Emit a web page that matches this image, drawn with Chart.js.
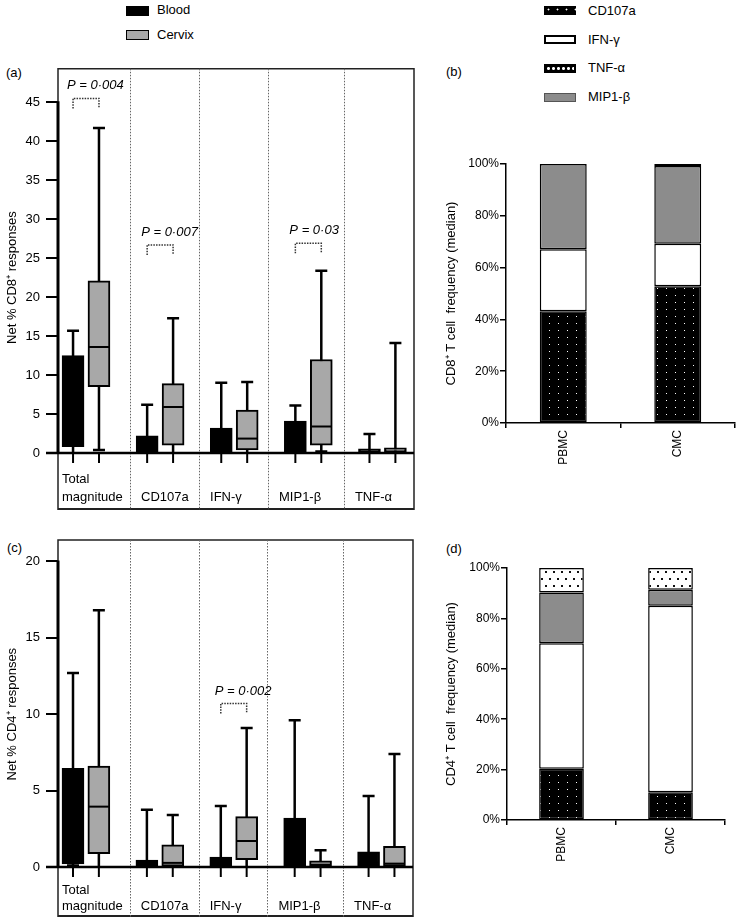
<!DOCTYPE html>
<html>
<head>
<meta charset="utf-8">
<script src="https://cdn.jsdelivr.net/npm/chart.js@4.4.1/dist/chart.umd.min.js"></script>
<style>
body { margin: 0; background: #fff; font-family: "Liberation Sans", Arial, sans-serif; color: #000; }
#page { position: relative; width: 739px; height: 918px; overflow: hidden; }
canvas { position: absolute; }
.lbl { position: absolute; font-size: 13px; line-height: 16px; white-space: nowrap; }
.sw { position: absolute; box-sizing: border-box; }
</style>
</head>
<body>
<div id="page">
  <div class="sw" style="left:126px;top:6px;width:23px;height:10px;background:#000"></div>
  <div class="lbl" style="left:157px;top:2px">Blood</div>
  <div class="sw" style="left:126px;top:30px;width:23px;height:10px;background:#a8a8a8;border:1.5px solid #000"></div>
  <div class="lbl" style="left:157px;top:27px">Cervix</div>

  <div class="sw" style="left:544px;top:6px;width:32px;height:9px;background:#000 radial-gradient(circle,#fff 0.7px,transparent 1.2px) 0 0/9px 7px"></div>
  <div class="lbl" style="left:588px;top:3px">CD107a</div>
  <div class="sw" style="left:544px;top:35px;width:32px;height:9px;background:#fff;border:2px solid #000"></div>
  <div class="lbl" style="left:588px;top:32px">IFN-γ</div>
  <div class="sw" style="left:544px;top:64px;width:32px;height:9px;border:2px solid #000;background:#000 radial-gradient(circle,#fff 1.3px,transparent 1.6px) 0 0/5px 5px"></div>
  <div class="lbl" style="left:588px;top:60px">TNF-α</div>
  <div class="sw" style="left:544px;top:93px;width:32px;height:9px;background:#8c8c8c;border:1px solid #555"></div>
  <div class="lbl" style="left:588px;top:89px">MIP1-β</div>

  <div class="lbl" style="left:6px;top:65px">(a)</div>
  <div class="lbl" style="left:446px;top:64px">(b)</div>
  <div class="lbl" style="left:7px;top:540px">(c)</div>
  <div class="lbl" style="left:446px;top:541px">(d)</div>

  <canvas id="chartA" width="420" height="462" style="left:0;top:55px"></canvas>
  <canvas id="chartB" width="319" height="360" style="left:420px;top:110px"></canvas>
  <canvas id="chartC" width="420" height="398" style="left:0;top:520px"></canvas>
  <canvas id="chartD" width="319" height="350" style="left:420px;top:520px"></canvas>
</div>
<script>
const groupLabels = [['Total', 'magnitude'], 'CD107a', 'IFN-γ', 'MIP1-β', 'TNF-α'];

// (a) net % CD8+ responses
const cd8BloodMin = [0, 0, 0, 0, 0];
const cd8BloodQ1 = [0.8, 0, 0, 0, 0];
const cd8BloodMed = [5.5, 0.6, 0.9, 1.5, 0.1];
const cd8BloodQ3 = [12.5, 2.2, 3.2, 4.1, 0.55];
const cd8BloodMax = [15.7, 6.2, 9.0, 6.1, 2.45];
const cd8CervixMin = [0.4, 0, 0, 0.2, 0];
const cd8CervixQ1 = [8.5, 1.0, 0.4, 1.0, 0];
const cd8CervixMed = [13.6, 5.9, 1.85, 3.4, 0.1];
const cd8CervixQ3 = [22.1, 8.9, 5.5, 12.0, 0.65];
const cd8CervixMax = [41.7, 17.3, 9.1, 23.4, 14.1];
const cd8Pvalues = [
    {group: 0, text: 'P = 0·004', at: 45.5},
    {group: 1, text: 'P = 0·007', at: 26.7},
    {group: 3, text: 'P = 0·03', at: 26.9}
];

// (c) net % CD4+ responses
const cd4BloodMin = [0.1, 0, 0, 0, 0];
const cd4BloodQ1 = [0.2, 0, 0, 0, 0];
const cd4BloodMed = [2.5, 0.1, 0.2, 1.0, 0.3];
const cd4BloodQ3 = [6.45, 0.45, 0.65, 3.2, 1.0];
const cd4BloodMax = [12.7, 3.75, 4.0, 9.6, 4.65];
const cd4CervixMin = [0, 0, 0, 0, 0];
const cd4CervixQ1 = [0.87, 0.05, 0.48, 0.05, 0.05];
const cd4CervixMed = [3.95, 0.27, 1.7, 0.15, 0.22];
const cd4CervixQ3 = [6.6, 1.45, 3.3, 0.4, 1.35];
const cd4CervixMax = [16.8, 3.4, 9.1, 1.1, 7.4];
const cd4Pvalues = [
    {group: 2, text: 'P = 0·002', at: 10.7}
];

// (b), (d) median composition, bottom to top
const sites = ['PBMC', 'CMC'];
const cd8Cd107a = [43.1, 52.8];
const cd8Ifng = [24.0, 16.4];
const cd8Mip1b = [32.9, 30.0];
const cd8Tnfa = [0, 0.8];
const cd4Cd107a = [20.3, 11.0];
const cd4Ifng = [49.8, 74.0];
const cd4Mip1b = [20.2, 6.4];
const cd4Tnfa = [9.7, 8.6];

const FONT = '"Liberation Sans", Arial, sans-serif';
Chart.defaults.font.family = FONT;
Chart.defaults.color = '#000';

const SHIFT = 0.175;

function dotPattern(bg, fg, w, h, pts, r)
{
    const c = document.createElement('canvas');
    c.width = w; c.height = h;
    const g = c.getContext('2d');
    g.fillStyle = bg; g.fillRect(0, 0, w, h);
    g.fillStyle = fg;
    pts.forEach(p => g.fillRect(p[0], p[1], r, r));
    return g.createPattern(c, 'repeat');
}
const dotsOnBlack = dotPattern('#000', '#fff', 9, 7, [[3, 3]], 1);
const dotsOnWhite = dotPattern('#fff', '#111', 8, 14, [[1, 2], [5, 9]], 2);

// whiskers, medians, frame, labels and p-value brackets of the box panels
const boxParts = {
    id: 'boxParts',
    beforeDatasetsDraw(chart, args, o) {
        const ctx = chart.ctx, x = chart.scales.x, y = chart.scales.y;
        ctx.save();
        ctx.strokeStyle = '#000';
        ctx.lineWidth = 2.5;
        o.series.forEach(s => s.max.forEach((hi, i) => {
            const px = x.getPixelForValue(i + s.shift);
            const top = y.getPixelForValue(hi), bot = y.getPixelForValue(s.min[i]);
            ctx.beginPath();
            ctx.moveTo(px, bot); ctx.lineTo(px, top);
            ctx.moveTo(px - 6, top); ctx.lineTo(px + 6, top);
            if (s.min[i] > 0) { ctx.moveTo(px - 6, bot); ctx.lineTo(px + 6, bot); }
            ctx.stroke();
        }));
        ctx.restore();
    },
    afterDatasetsDraw(chart, args, o) {
        const ctx = chart.ctx, a = chart.chartArea, x = chart.scales.x, y = chart.scales.y;
        const y0 = y.getPixelForValue(0), yTop = y.getPixelForValue(o.topTick), base = x.bottom;
        ctx.save();
        // medians
        ctx.strokeStyle = '#000';
        ctx.lineWidth = 2;
        o.series.forEach(s => s.med.forEach((m, i) => {
            const px = x.getPixelForValue(i + s.shift), py = y.getPixelForValue(m);
            ctx.beginPath(); ctx.moveTo(px - 10, py); ctx.lineTo(px + 10, py); ctx.stroke();
        }));
        // frame
        ctx.strokeStyle = '#222';
        ctx.lineWidth = 1.5;
        ctx.beginPath();
        ctx.moveTo(a.left, yTop); ctx.lineTo(a.left, a.top); ctx.lineTo(a.right, a.top); ctx.lineTo(a.right, base);
        ctx.moveTo(a.left, y0); ctx.lineTo(a.left, base);
        ctx.stroke();
        ctx.lineWidth = 2;
        ctx.beginPath(); ctx.moveTo(a.left, base - 1); ctx.lineTo(a.right, base - 1); ctx.stroke();
        // dotted dividers
        ctx.strokeStyle = '#666';
        ctx.lineWidth = 1;
        ctx.setLineDash([1.5, 1.5]);
        o.dividers.forEach(d => {
            const px = Math.round(x.getPixelForValue(d)) + 0.5;
            ctx.beginPath(); ctx.moveTo(px, a.top); ctx.lineTo(px, base); ctx.stroke();
        });
        ctx.setLineDash([]);
        // y axis and zero line
        ctx.strokeStyle = '#000';
        ctx.lineWidth = 3;
        ctx.beginPath(); ctx.moveTo(a.left, y0); ctx.lineTo(a.left, yTop - 1); ctx.stroke();
        ctx.lineWidth = 2.5;
        ctx.beginPath(); ctx.moveTo(a.left - 12, y0); ctx.lineTo(a.right, y0); ctx.stroke();
        // ticks under every box
        ctx.lineWidth = 2;
        o.series.forEach(s => s.max.forEach((_, i) => {
            const px = x.getPixelForValue(i + s.shift);
            ctx.beginPath(); ctx.moveTo(px, y0); ctx.lineTo(px, y0 + 10); ctx.stroke();
        }));
        // group labels
        ctx.fillStyle = '#000';
        ctx.font = '13px ' + FONT;
        ctx.textAlign = 'left';
        ctx.textBaseline = 'alphabetic';
        const h = base - y0;
        groupLabels.forEach((lab, i) => {
            const lx = i === 0 ? a.left + 4 : x.getPixelForValue(o.dividers[i - 1]) + 11;
            if (Array.isArray(lab)) {
                ctx.fillText(lab[0], lx, y0 + 0.53 * h);
                ctx.fillText(lab[1], lx, y0 + 0.85 * h);
            } else {
                ctx.fillText(lab, lx, y0 + 0.85 * h);
            }
        });
        // y title
        ctx.save();
        ctx.translate(12, (y0 + yTop) / 2);
        ctx.rotate(-Math.PI / 2);
        ctx.textAlign = 'center';
        ctx.textBaseline = 'middle';
        ctx.fillText(o.title, 0, 0);
        ctx.restore();
        // p-value brackets
        o.pvalues.forEach(p => {
            const x1 = x.getPixelForValue(p.group - SHIFT), x2 = x.getPixelForValue(p.group + SHIFT);
            const py = y.getPixelForValue(p.at);
            ctx.strokeStyle = '#333';
            ctx.lineWidth = 1.5;
            ctx.setLineDash([1.5, 1.2]);
            ctx.beginPath();
            ctx.moveTo(x1, py + 10); ctx.lineTo(x1, py); ctx.lineTo(x2, py); ctx.lineTo(x2, py + 10);
            ctx.stroke();
            ctx.setLineDash([]);
            ctx.font = 'italic 13px ' + FONT;
            ctx.textAlign = 'left';
            ctx.fillText(p.text, x1 - 6, py - 9);
        });
        ctx.restore();
    }
};

function boxChart(id, p)
{
    const blood = {shift: -SHIFT, min: p.blood[0], q1: p.blood[1], med: p.blood[2], q3: p.blood[3], max: p.blood[4]};
    const cervix = {shift: SHIFT, min: p.cervix[0], q1: p.cervix[1], med: p.cervix[2], q3: p.cervix[3], max: p.cervix[4]};
    const boxes = s => s.q1.map((lo, i) => ({x: i + s.shift, y: [lo, s.q3[i]]}));
    return new Chart(document.getElementById(id), {
        type: 'bar',
        data: {
            datasets: [
                {label: 'Blood', data: boxes(blood), backgroundColor: '#000'},
                {label: 'Cervix', data: boxes(cervix), backgroundColor: '#a8a8a8'}
            ]
        },
        options: {
            responsive: false,
            animation: false,
            layout: {padding: p.padding},
            datasets: {bar: {barThickness: 22, grouped: false, borderColor: '#000', borderWidth: 2, borderSkipped: false}},
            plugins: {
                legend: {display: false},
                tooltip: {enabled: false},
                boxParts: {series: [blood, cervix], topTick: p.topTick, dividers: [0.594, 1.525, 2.456, 3.48], title: p.title, pvalues: p.pvalues}
            },
            scales: {
                x: {
                    type: 'linear', min: -0.378, max: 4.426, offset: false,
                    afterFit: s => { s.height = p.axisHeight; },
                    ticks: {display: false}, grid: {display: false}, border: {display: false}
                },
                y: {
                    min: 0, max: p.yMax,
                    afterFit: s => { s.width = 58; },
                    ticks: {stepSize: 5, includeBounds: false, padding: 6, color: '#000', font: {size: 13}},
                    grid: {drawOnChartArea: false, tickLength: 12, lineWidth: 2, color: '#000'},
                    border: {display: false}
                }
            }
        },
        plugins: [boxParts]
    });
}

function stackChart(id, rows, title, padding, axisWidth)
{
    return new Chart(document.getElementById(id), {
        type: 'bar',
        data: {
            labels: sites,
            datasets: [
                {label: 'CD107a', data: rows[0], backgroundColor: dotsOnBlack},
                {label: 'IFN-γ', data: rows[1], backgroundColor: '#fff'},
                {label: 'MIP1-β', data: rows[2], backgroundColor: '#8c8c8c'},
                {label: 'TNF-α', data: rows[3], backgroundColor: dotsOnWhite}
            ]
        },
        options: {
            responsive: false,
            animation: false,
            layout: {padding: padding},
            datasets: {bar: {borderColor: '#000', borderWidth: 1.5, borderSkipped: false, barPercentage: 0.41, categoryPercentage: 1}},
            plugins: {legend: {display: false}, tooltip: {enabled: false}},
            scales: {
                x: {
                    stacked: true,
                    afterFit: s => { s.height = 47; },
                    grid: {drawOnChartArea: false, offset: true, tickLength: 5, color: '#000', lineWidth: 1.5},
                    border: {color: '#000', width: 1.5},
                    ticks: {minRotation: 90, maxRotation: 90, padding: 2, color: '#000', font: {size: 12}}
                },
                y: {
                    stacked: true, min: 0, max: 100,
                    afterFit: s => { s.width = axisWidth; },
                    ticks: {stepSize: 20, padding: 1, color: '#000', font: {size: 12}, callback: v => v + '%'},
                    grid: {drawOnChartArea: false, tickLength: 6, color: '#000', lineWidth: 1.5},
                    border: {color: '#000', width: 1.5},
                    title: {display: true, text: title, color: '#000', font: {size: 13}, padding: {top: 24, bottom: 0}}
                }
            }
        }
    });
}

boxChart('chartA', {
    blood: [cd8BloodMin, cd8BloodQ1, cd8BloodMed, cd8BloodQ3, cd8BloodMax],
    cervix: [cd8CervixMin, cd8CervixQ1, cd8CervixMed, cd8CervixQ3, cd8CervixMax],
    yMax: 49.3, topTick: 45, axisHeight: 57,
    padding: {top: 8, right: 6, bottom: 7, left: 0},
    title: 'Net % CD8⁺ responses',
    pvalues: cd8Pvalues
});
boxChart('chartC', {
    blood: [cd4BloodMin, cd4BloodQ1, cd4BloodMed, cd4BloodQ3, cd4BloodMax],
    cervix: [cd4CervixMin, cd4CervixQ1, cd4CervixMed, cd4CervixQ3, cd4CervixMax],
    yMax: 21.4, topTick: 20, axisHeight: 50,
    padding: {top: 20, right: 7, bottom: 1, left: 0},
    title: 'Net % CD4⁺ responses',
    pvalues: cd4Pvalues
});
stackChart('chartB', [cd8Cd107a, cd8Ifng, cd8Mip1b, cd8Tnfa], 'CD8⁺ T cell  frequency (median)',
    {top: 54, right: 4, bottom: 0, left: 0}, 86);
stackChart('chartD', [cd4Cd107a, cd4Ifng, cd4Mip1b, cd4Tnfa], 'CD4⁺ T cell  frequency (median)',
    {top: 48, right: 14, bottom: 3, left: 0}, 87);
</script>
</body>
</html>
